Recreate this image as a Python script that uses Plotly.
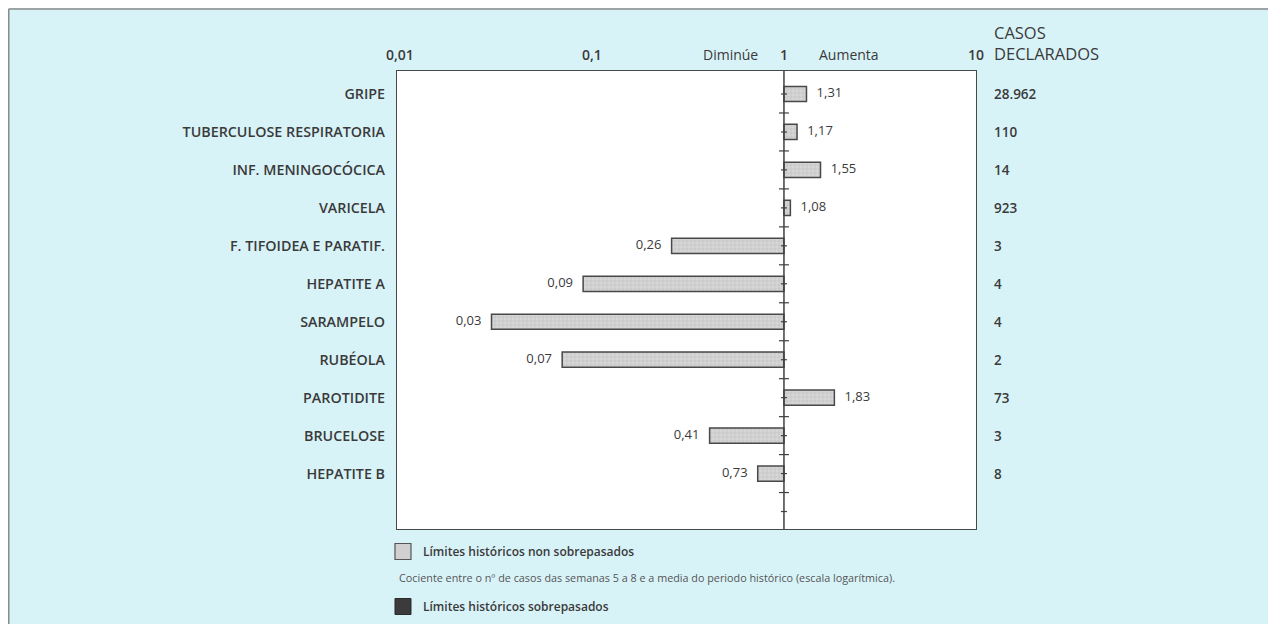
import plotly.graph_objects as go

# ---- data ----
categorias = ["GRIPE", "TUBERCULOSE RESPIRATORIA", "INF. MENINGOCÓCICA", "VARICELA",
              "F. TIFOIDEA E PARATIF.", "HEPATITE A", "SARAMPELO", "RUBÉOLA",
              "PAROTIDITE", "BRUCELOSE", "HEPATITE B"]
cocientes = [1.31, 1.17, 1.55, 1.08, 0.26, 0.09, 0.03, 0.07, 1.83, 0.41, 0.73]
casos = ["28.962", "110", "14", "923", "3", "4", "4", "2", "73", "3", "8"]
tick_vals = [0.01, 0.1, 1, 10]
tick_text = ["0,01", "0,1", "1", "10"]
lenda = ["Límites históricos non sobrepasados", "Límites históricos sobrepasados"]

FONT = "Open Sans"
TXT = "#3a3a3a"
BG = "#d8f3f8"

pos = list(range(len(categorias)))
xr = [-2.015, 1.0]          # log10 range
yr = [11.46, -0.606]

ML, MT, PW, PH = 389, 63, 579, 458
W, H = 1276, 624

fig = go.Figure()

fig.add_trace(go.Bar(
    y=pos, x=[v - 1 for v in cocientes], base=1, orientation="h", width=0.4,
    name=lenda[0], showlegend=False,
    marker=dict(color="#d4d4d4", line=dict(color="#484848", width=1.5),
                pattern=dict(shape="+", size=4, solidity=0.25, fgcolor="#a9a9a9", bgcolor="#d6d6d6")),
    hoverinfo="skip",
))
# legend entries
fig.add_trace(go.Scatter(
    x=[None], y=[None], mode="markers", name=lenda[0], legendgroup="a",
    marker=dict(symbol="square", size=16, color="#d0d0d0", line=dict(color="#555555", width=1.2))))
fig.add_trace(go.Scatter(
    x=[None], y=[None], mode="markers", name=lenda[1], legendgroup="b",
    marker=dict(symbol="square", size=16, color="#3b3b3b", line=dict(color="#2a2a2a", width=1))))

lab = [f"{v:.2f}".replace(".", ",") for v in cocientes]
right = [i for i, v in enumerate(cocientes) if v >= 1]
left = [i for i, v in enumerate(cocientes) if v < 1]
fig.add_trace(go.Scatter(
    x=[cocientes[i] for i in right], y=[pos[i] for i in right], mode="text",
    text=["   " + lab[i] for i in right], textposition="middle right",
    textfont=dict(family=FONT, size=13, color=TXT), showlegend=False, hoverinfo="skip"))
fig.add_trace(go.Scatter(
    x=[cocientes[i] for i in left], y=[pos[i] for i in left], mode="text",
    text=[lab[i] + "   " for i in left], textposition="middle left",
    textfont=dict(family=FONT, size=13, color=TXT), showlegend=False, hoverinfo="skip"))

# centre line at 1 with ticks
xc = (0 - xr[0]) / (xr[1] - xr[0])
shapes = [dict(type="line", xref="paper", yref="paper", x0=xc, x1=xc, y0=0, y1=1,
               line=dict(color="#404040", width=1.5))]
for k in range(len(categorias) + 1):
    for yy, hl in ((k, 3), (k + 0.5, 5)):
        if yy > yr[0]:
            continue
        shapes.append(dict(type="line", xref="paper", yref="y",
                           x0=xc - hl / PW, x1=xc + hl / PW, y0=yy, y1=yy,
                           line=dict(color="#404040", width=1.2)))
# page frame (top and left)
fx = (0.75 - ML) / PW
fy = 1 + (MT - 1) / PH
shapes.append(dict(type="line", xref="paper", yref="paper", x0=fx, x1=(W - ML) / PW, y0=fy, y1=fy,
                   line=dict(color="#8a8a8a", width=1.5)))
shapes.append(dict(type="line", xref="paper", yref="paper", x0=fx, x1=fx, y0=-(H - MT - PH) / PH, y1=fy,
                   line=dict(color="#8a8a8a", width=1.5)))

annotations = []
for i, c in enumerate(casos):
    annotations.append(dict(xref="paper", yref="y", x=1, y=pos[i], xshift=16, xanchor="left",
                            text=c, showarrow=False,
                            font=dict(family=FONT, size=13.5, color=TXT, weight=600)))
annotations.append(dict(xref="paper", yref="paper", x=1, y=1, xshift=16, yshift=28,
                        xanchor="left", yanchor="middle", align="left",
                        text="CASOS<br>DECLARADOS", showarrow=False,
                        font=dict(family=FONT, size=16.5, color=TXT)))
annotations.append(dict(xref="paper", yref="paper", x=xc, y=1, xshift=-24, yshift=17,
                        xanchor="right", yanchor="middle", text="Diminúe", showarrow=False,
                        font=dict(family=FONT, size=14, color=TXT)))
annotations.append(dict(xref="paper", yref="paper", x=xc, y=1, xshift=33, yshift=17,
                        xanchor="left", yanchor="middle", text="Aumenta", showarrow=False,
                        font=dict(family=FONT, size=14, color=TXT)))
annotations.append(dict(xref="paper", yref="paper", x=0, y=0, yshift=-48, xanchor="left",
                        yanchor="middle",
                        text="Cociente entre o nº de casos das semanas 5 a 8 e a media do periodo histórico (escala logarítmica).",
                        showarrow=False, font=dict(family=FONT, size=10.8, color="#555555")))

fig.update_layout(
    width=W, height=H,
    margin=dict(l=ML, r=W - ML - PW, t=MT, b=H - MT - PH, pad=0, autoexpand=False),
    paper_bgcolor=BG, plot_bgcolor="white",
    font=dict(family=FONT, color=TXT),
    barmode="overlay",
    xaxis=dict(type="log", range=xr, side="top", tickvals=tick_vals, ticktext=tick_text,
               ticks="", showgrid=False, zeroline=False, showline=True, mirror=True,
               linecolor="#484848", linewidth=1.2, ticklabelstandoff=4, automargin=False,
               tickfont=dict(family=FONT, size=14, color=TXT, weight=600)),
    yaxis=dict(range=yr, tickvals=pos, ticktext=categorias, ticks="", showgrid=False,
               zeroline=False, showline=True, mirror=True, linecolor="#484848", linewidth=1.2,
               ticklabelstandoff=8, automargin=False,
               tickfont=dict(family=FONT, size=14.3, color=TXT, weight=600)),
    showlegend=True,
    legend=dict(x=-0.0242, y=-0.0175, xanchor="left", yanchor="top", orientation="v",
                traceorder="grouped", tracegroupgap=36, bgcolor="rgba(0,0,0,0)",
                itemsizing="trace",
                font=dict(family=FONT, size=12, color=TXT, weight=600)),
    shapes=shapes, annotations=annotations,
)

fig.write_html("out.html")
